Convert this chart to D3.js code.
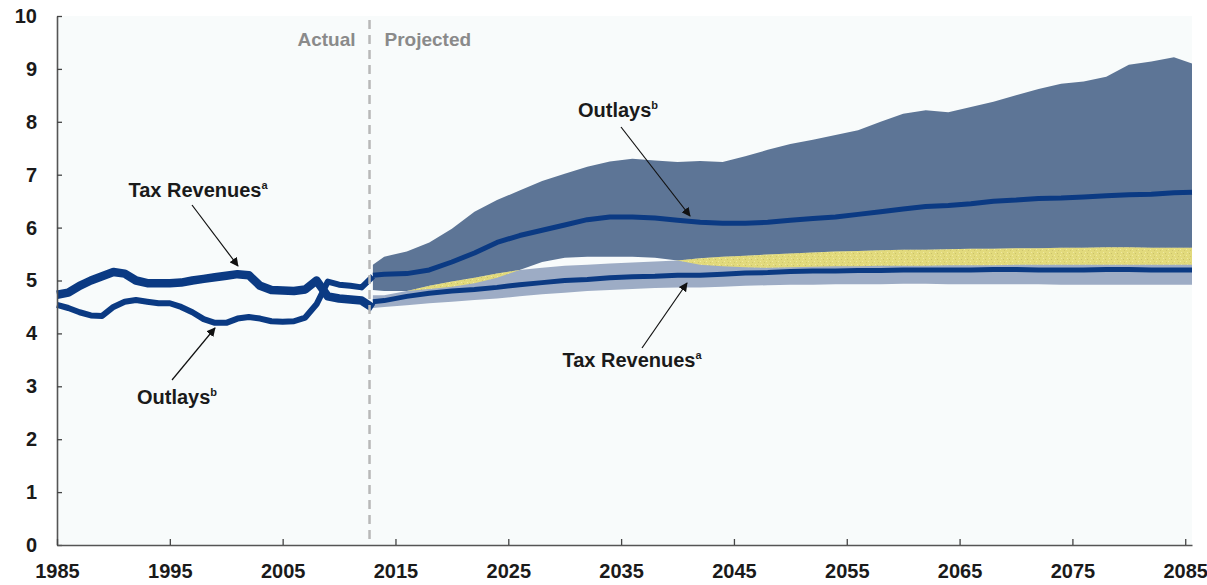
<!DOCTYPE html>
<html>
<head>
<meta charset="utf-8">
<script src="https://cdn.jsdelivr.net/npm/d3@7"></script>
<style>
  body { margin: 0; background: #fff; }
  svg text { font-family: "Liberation Sans", Arial, sans-serif; font-weight: bold; }
</style>
</head>
<body>
<svg id="chart"></svg>
<script>
// historical, percent of GDP
const histYears = d3.range(1985, 2014);
const histTax = [4.73, 4.77, 4.9, 5.0, 5.08, 5.16, 5.13, 5.0, 4.95, 4.95, 4.95, 4.96, 5.0, 5.03, 5.06, 5.09, 5.12, 5.1, 4.9, 4.82, 4.81, 4.8, 4.83, 5.0, 4.7, 4.66, 4.64, 4.62, 4.48];
const histOutlays = [4.54, 4.48, 4.4, 4.34, 4.33, 4.5, 4.6, 4.63, 4.6, 4.57, 4.57, 4.5, 4.4, 4.27, 4.2, 4.2, 4.28, 4.31, 4.28, 4.23, 4.22, 4.23, 4.3, 4.55, 4.98, 4.92, 4.9, 4.87, 5.08];

// projected, median with 80 percent range
const projYears = [2013, 2014, 2016, 2018, 2020, 2022, 2024, 2026, 2028, 2030, 2032, 2034, 2036, 2038, 2040, 2042, 2044, 2046, 2048, 2050, 2052, 2054, 2056, 2058, 2060, 2062, 2064, 2066, 2068, 2070, 2072, 2074, 2076, 2078, 2080, 2082, 2084, 2085.6];
const outlaysHigh = [5.3, 5.45, 5.55, 5.72, 5.98, 6.3, 6.52, 6.7, 6.88, 7.02, 7.15, 7.25, 7.3, 7.27, 7.24, 7.26, 7.24, 7.35, 7.47, 7.58, 7.66, 7.75, 7.84, 8.0, 8.15, 8.22, 8.18, 8.28, 8.38, 8.5, 8.62, 8.72, 8.76, 8.85, 9.08, 9.14, 9.22, 9.1];
const outlaysMid = [5.1, 5.12, 5.13, 5.2, 5.35, 5.52, 5.72, 5.85, 5.95, 6.05, 6.15, 6.2, 6.2, 6.18, 6.14, 6.1, 6.08, 6.08, 6.1, 6.14, 6.17, 6.2, 6.25, 6.3, 6.35, 6.4, 6.42, 6.45, 6.5, 6.52, 6.55, 6.56, 6.58, 6.6, 6.62, 6.63, 6.66, 6.67];
const outlaysLow = [4.82, 4.8, 4.8, 4.84, 4.88, 4.95, 5.05, 5.2, 5.35, 5.43, 5.45, 5.45, 5.45, 5.43, 5.38, 5.3, 5.27, 5.25, 5.24, 5.25, 5.26, 5.27, 5.27, 5.28, 5.28, 5.28, 5.29, 5.29, 5.29, 5.3, 5.3, 5.3, 5.3, 5.3, 5.3, 5.3, 5.3, 5.3];
const taxHigh = [4.72, 4.72, 4.8, 4.9, 4.98, 5.05, 5.13, 5.2, 5.24, 5.28, 5.3, 5.32, 5.34, 5.36, 5.38, 5.42, 5.45, 5.47, 5.49, 5.51, 5.53, 5.55, 5.56, 5.57, 5.58, 5.58, 5.59, 5.6, 5.6, 5.61, 5.61, 5.62, 5.62, 5.63, 5.63, 5.62, 5.62, 5.62];
const taxMid = [4.6, 4.62, 4.7, 4.76, 4.8, 4.83, 4.87, 4.92, 4.96, 5.0, 5.02, 5.05, 5.07, 5.08, 5.1, 5.1, 5.12, 5.14, 5.15, 5.17, 5.18, 5.18, 5.19, 5.19, 5.2, 5.2, 5.2, 5.2, 5.21, 5.21, 5.2, 5.2, 5.2, 5.21, 5.21, 5.2, 5.2, 5.2];
const taxLow = [4.48, 4.5, 4.53, 4.57, 4.6, 4.63, 4.66, 4.7, 4.74, 4.77, 4.8, 4.82, 4.84, 4.86, 4.87, 4.87, 4.88, 4.9, 4.91, 4.92, 4.92, 4.93, 4.93, 4.93, 4.94, 4.94, 4.93, 4.93, 4.93, 4.93, 4.93, 4.92, 4.92, 4.92, 4.92, 4.92, 4.92, 4.92];

const yTicks = d3.range(0, 11);
const xTicks = d3.range(1985, 2086, 10);
const splitYear = 2012.7;

let width = 1207,
    height = 585;

let svg = d3.select("#chart")
    .attr("width", width)
    .attr("height", height);

let x = d3.scaleLinear().domain([1985, 2085.6]).range([57, 1192]);
let y = d3.scaleLinear().domain([0, 10]).range([545, 16]);

// plot background
svg.append("rect")
    .attr("x", x(1985)).attr("y", y(10))
    .attr("width", x(2085.6) - x(1985))
    .attr("height", y(0) - y(10))
    .attr("fill", "#f8fbfb");

// speckled yellow for the overlap of the two ranges
let defs = svg.append("defs");
let pat = defs.append("pattern")
    .attr("id", "speckle")
    .attr("patternUnits", "userSpaceOnUse")
    .attr("width", 6).attr("height", 6);
pat.append("rect").attr("width", 6).attr("height", 6).attr("fill", "#e2da7c");
pat.append("rect").attr("x", 1).attr("y", 1).attr("width", 1).attr("height", 1).attr("fill", "#c9c06a");
pat.append("rect").attr("x", 4).attr("y", 3).attr("width", 1).attr("height", 1).attr("fill", "#f0eaa0");
pat.append("rect").attr("x", 2).attr("y", 4).attr("width", 1).attr("height", 1).attr("fill", "#cfc66e");
pat.append("rect").attr("x", 5).attr("y", 0).attr("width", 1).attr("height", 1).attr("fill", "#efe8a4");

let proj = projYears.map((yr, i) => ({
    year: yr,
    oHi: outlaysHigh[i], oMid: outlaysMid[i], oLo: outlaysLow[i],
    tHi: taxHigh[i], tMid: taxMid[i], tLo: taxLow[i]
}));

let outlaysArea = d3.area()
    .x(d => x(d.year)).y0(d => y(d.oLo)).y1(d => y(d.oHi));
let taxArea = d3.area()
    .x(d => x(d.year)).y0(d => y(d.tLo)).y1(d => y(d.tHi));

defs.append("clipPath").attr("id", "outlays-clip")
    .append("path").attr("d", outlaysArea(proj));

svg.append("path").attr("d", outlaysArea(proj)).attr("fill", "#5d7596");
svg.append("path").attr("d", taxArea(proj)).attr("fill", "#9dacc5");
// overlap of the two ranges
svg.append("path").attr("d", taxArea(proj))
    .attr("fill", "url(#speckle)")
    .attr("clip-path", "url(#outlays-clip)");

// median lines
let navy = "#0b3a83";
svg.append("path")
    .attr("d", d3.line().x(d => x(d.year)).y(d => y(d.oMid))(proj))
    .attr("fill", "none").attr("stroke", navy).attr("stroke-width", 5)
    .attr("stroke-linejoin", "round");
svg.append("path")
    .attr("d", d3.line().x(d => x(d.year)).y(d => y(d.tMid))(proj))
    .attr("fill", "none").attr("stroke", navy).attr("stroke-width", 5)
    .attr("stroke-linejoin", "round");

// historical lines
svg.append("path")
    .attr("d", d3.line().x((d, i) => x(histYears[i])).y(d => y(d))(histOutlays))
    .attr("fill", "none").attr("stroke", navy).attr("stroke-width", 6)
    .attr("stroke-linejoin", "round");
svg.append("path")
    .attr("d", d3.line().x((d, i) => x(histYears[i])).y(d => y(d))(histTax))
    .attr("fill", "none").attr("stroke", navy).attr("stroke-width", 8.5)
    .attr("stroke-linejoin", "round");

// actual / projected divider
svg.append("line")
    .attr("x1", x(splitYear)).attr("x2", x(splitYear))
    .attr("y1", y(10) + 4).attr("y2", y(0))
    .attr("stroke", "#b8b8b8").attr("stroke-width", 2.5)
    .attr("stroke-dasharray", "9,6");
svg.append("text")
    .attr("x", x(splitYear) - 14).attr("y", 46)
    .attr("text-anchor", "end").attr("fill", "#8a8a8a")
    .style("font-size", "19px").text("Actual");
svg.append("text")
    .attr("x", x(splitYear) + 15).attr("y", 46)
    .attr("text-anchor", "start").attr("fill", "#8a8a8a")
    .style("font-size", "19px").text("Projected");

// axes
let yAxis = svg.append("g")
    .attr("transform", `translate(${x(1985)},0)`)
    .call(d3.axisLeft(y).tickValues(yTicks).tickSizeInner(-5).tickSizeOuter(0).tickPadding(20));
let xAxis = svg.append("g")
    .attr("transform", `translate(0,${y(0)})`)
    .call(d3.axisBottom(x).tickValues(xTicks).tickFormat(d3.format("d")).tickSizeInner(-6).tickSizeOuter(0).tickPadding(19));

[yAxis, xAxis].forEach(g => {
    g.select(".domain").attr("stroke", "#555").attr("stroke-width", 1.6);
    g.selectAll(".tick line").attr("stroke", "#444").attr("stroke-width", 1.3);
    g.selectAll(".tick text").attr("fill", "#1a1a1a").style("font-size", "20px");
});

// annotations
defs.append("marker")
    .attr("id", "arrow")
    .attr("viewBox", "0 0 10 10")
    .attr("refX", 9).attr("refY", 5)
    .attr("markerWidth", 9).attr("markerHeight", 9)
    .attr("markerUnits", "userSpaceOnUse")
    .attr("orient", "auto")
    .append("path").attr("d", "M0,0 L10,5 L0,10 z").attr("fill", "#111");

function label(cx, cy, main, sup) {
    let t = svg.append("text")
        .attr("x", cx).attr("y", cy)
        .attr("text-anchor", "middle")
        .attr("fill", "#1a1a1a")
        .style("font-size", "20px");
    t.append("tspan").text(main);
    t.append("tspan").attr("dy", -8).style("font-size", "11px").text(sup);
}

function arrow(x1, y1, x2, y2) {
    svg.append("line")
        .attr("x1", x1).attr("y1", y1).attr("x2", x2).attr("y2", y2)
        .attr("stroke", "#111").attr("stroke-width", 1.2)
        .attr("marker-end", "url(#arrow)");
}

label(198, 197, "Tax Revenues", "a");
arrow(192, 205, 238, 266);

label(177, 404, "Outlays", "b");
arrow(172, 380, 215, 328);

label(618, 117, "Outlays", "b");
arrow(621, 127, 690, 216);

label(632, 367, "Tax Revenues", "a");
arrow(642, 348, 687, 283);
</script>
</body>
</html>
